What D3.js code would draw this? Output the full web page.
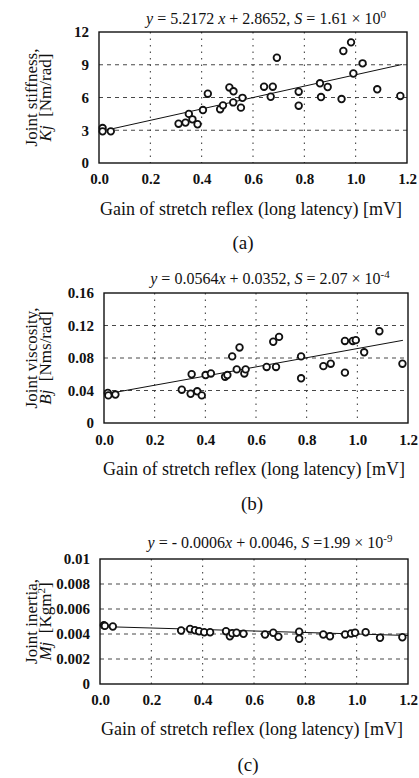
<!DOCTYPE html>
<html>
<head>
<meta charset="utf-8">
<script src="https://cdn.jsdelivr.net/npm/d3@7"></script>
<style>
  body { margin: 0; background: #fff; }
  svg text { font-family: "Liberation Serif", "DejaVu Serif", serif; fill: #111; white-space: pre; }
</style>
</head>
<body>
<svg id="chart"></svg>
<script>
// ---- data ----
const gainTicks = [0, 0.2, 0.4, 0.6, 0.8, 1.0, 1.2];

// (a) joint stiffness
const stiffGain = [0.014, 0.014, 0.046, 0.31, 0.337, 0.35, 0.364, 0.384, 0.405, 0.424, 0.472, 0.483, 0.508, 0.524, 0.523, 0.553, 0.559,
  0.643, 0.677, 0.669, 0.693, 0.778, 0.778, 0.861, 0.891, 0.865, 0.945, 0.952, 0.982, 0.991, 1.027, 1.084, 1.174];
const stiffness = [3.2, 2.9, 2.9, 3.6, 3.7, 4.5, 4.0, 3.55, 4.85, 6.35, 4.93, 5.28, 6.92, 6.57, 5.55, 5.07, 5.97,
  6.99, 6.99, 6.07, 9.64, 6.53, 5.25, 7.3, 6.96, 6.04, 5.86, 10.26, 11.05, 8.2, 9.13, 6.75, 6.14];
const stiffTicks = [0, 3, 6, 9, 12];

// (b) joint viscosity
const viscGain = [0.015, 0.017, 0.045, 0.307, 0.342, 0.346, 0.368, 0.386, 0.401, 0.422, 0.478, 0.487, 0.506, 0.535, 0.524, 0.554, 0.559,
  0.642, 0.679, 0.668, 0.691, 0.778, 0.778, 0.866, 0.895, 0.951, 0.951, 0.982, 0.994, 1.027, 1.087, 1.178];
const viscosity = [0.037, 0.034, 0.035, 0.041, 0.036, 0.060, 0.039, 0.034, 0.059, 0.061, 0.057, 0.059, 0.082, 0.093, 0.066, 0.061, 0.066,
  0.069, 0.069, 0.100, 0.106, 0.082, 0.055, 0.070, 0.073, 0.062, 0.101, 0.101, 0.102, 0.087, 0.113, 0.073];
const viscTicks = [0, 0.04, 0.08, 0.12, 0.16];

// (c) joint inertia
const inertGain = [0.015, 0.019, 0.050, 0.316, 0.351, 0.370, 0.386, 0.406, 0.429, 0.491, 0.506, 0.515, 0.532, 0.559,
  0.643, 0.675, 0.695, 0.776, 0.776, 0.870, 0.896, 0.955, 0.978, 0.994, 1.035, 1.091, 1.178];
const inertia = [0.0047, 0.00465, 0.0046, 0.00428, 0.0044, 0.0043, 0.00422, 0.00414, 0.00414, 0.00422, 0.00382, 0.00406, 0.0041, 0.00402,
  0.00396, 0.0041, 0.00378, 0.00418, 0.00362, 0.00396, 0.00382, 0.00396, 0.00404, 0.0041, 0.00414, 0.0037, 0.00374];
const inertTicks = [0, 0.002, 0.004, 0.006, 0.008, 0.01];

// regression lines y = slope*x + intercept
const fitSlope = [5.2172, 0.0564, -0.0006];
const fitIntercept = [2.8652, 0.0352, 0.0046];
const fitFrom = [0.02, 0.02, 0.0];
const fitTo = [1.18, 1.18, 1.2];

const panelTags = ["(a)", "(b)", "(c)"];
const yTitleTop = ["Joint stiffness,", "Joint viscosity,", "Joint inertia,"];

const W = 419, H = 778;

const svg = d3.select("#chart")
    .attr("width", W)
    .attr("height", H);

// layout of each panel (pixels)
const layouts = [
    { l: 99, r: 407, t: 32, b: 163, title: 24, xTick: 188, xTitle: 215, tag: 249, tagX: 243, tx: 266 },
    { l: 104, r: 408, t: 293, b: 423, title: 284, xTick: 449, xTitle: 475, tag: 510, tagX: 252, tx: 270 },
    { l: 100, r: 408, t: 559, b: 684, title: 548, xTick: 709, xTitle: 735, tag: 771, tagX: 248, tx: 270 }
];

const panels = [
    { gx: stiffGain, gy: stiffness, ticks: stiffTicks },
    { gx: viscGain, gy: viscosity, ticks: viscTicks },
    { gx: inertGain, gy: inertia, ticks: inertTicks }
];

const titleParts = [
    [{ t: "y", i: 1 }, { t: " = 5.2172 " }, { t: "x", i: 1 }, { t: " + 2.8652, " }, { t: "S", i: 1 }, { t: " = 1.61 × 10" }, { t: "0", sup: 1 }],
    [{ t: "y", i: 1 }, { t: " = 0.0564" }, { t: "x", i: 1 }, { t: " + 0.0352, " }, { t: "S", i: 1 }, { t: " = 2.07 × 10" }, { t: "-4", sup: 1 }],
    [{ t: "y", i: 1 }, { t: " = - 0.0006" }, { t: "x", i: 1 }, { t: " + 0.0046, " }, { t: "S", i: 1 }, { t: " =1.99 × 10" }, { t: "-9", sup: 1 }]
];

const yTitleBottom = [
    [{ t: "Kj", i: 1 }, { t: "  [Nm/rad]" }],
    [{ t: "Bj", i: 1 }, { t: "  [Nms/rad]" }],
    [{ t: "Mj", i: 1 }, { t: "  [Kgm" }, { t: "2", sup: 1 }, { t: "]", sub: 1 }]
];

function addParts(textSel, parts, supSize) {
    parts.forEach(p => {
        const ts = textSel.append("tspan").text(p.t);
        if (p.i) ts.style("font-style", "italic");
        if (p.sup) ts.attr("dy", -6).style("font-size", supSize + "px");
        if (p.sub) ts.attr("dy", 6);
    });
}

panels.forEach((p, k) => {
    const L = layouts[k];
    const x = d3.scaleLinear().domain([0, 1.2]).range([L.l, L.r]);
    const yMax = p.ticks[p.ticks.length - 1];
    const y = d3.scaleLinear().domain([0, yMax]).range([L.b, L.t]);
    const g = svg.append("g");

    // grid ----------
    g.selectAll(".hgrid")
        .data(p.ticks.slice(1, -1))
        .enter()
        .append("line")
        .attr("x1", L.l).attr("x2", L.r)
        .attr("y1", d => y(d)).attr("y2", d => y(d))
        .style("stroke", "#333")
        .style("stroke-width", 0.9)
        .style("stroke-dasharray", "4,4");

    g.selectAll(".vgrid")
        .data(gainTicks.slice(1, -1))
        .enter()
        .append("line")
        .attr("x1", d => x(d)).attr("x2", d => x(d))
        .attr("y1", L.t).attr("y2", L.b)
        .style("stroke", "#333")
        .style("stroke-width", 1)
        .style("stroke-dasharray", "1.5,5");

    // frame
    g.append("rect")
        .attr("x", L.l).attr("y", L.t)
        .attr("width", L.r - L.l).attr("height", L.b - L.t)
        .style("fill", "none")
        .style("stroke", "#111")
        .style("stroke-width", 1.4);

    // axes ----------
    const fmtY = d => d === 0 ? "0" : String(d);
    g.append("g")
        .attr("transform", `translate(${L.l},0)`)
        .call(d3.axisLeft(y).tickValues(p.ticks).tickSize(0).tickPadding(10).tickFormat(fmtY))
        .call(a => a.select(".domain").remove())
        .selectAll("text")
        .style("font-size", "15px")
        .style("font-weight", "bold");

    g.append("g")
        .attr("transform", `translate(0,${L.xTick - 15})`)
        .call(d3.axisBottom(x).tickValues(gainTicks).tickSize(0).tickPadding(0).tickFormat(d3.format(".1f")))
        .call(a => a.select(".domain").remove())
        .selectAll("text")
        .attr("dy", "0.71em")
        .style("font-size", "15px")
        .style("font-weight", "bold");

    // regression line
    g.append("line")
        .attr("x1", x(fitFrom[k])).attr("x2", x(fitTo[k]))
        .attr("y1", y(fitSlope[k] * fitFrom[k] + fitIntercept[k]))
        .attr("y2", y(fitSlope[k] * fitTo[k] + fitIntercept[k]))
        .style("stroke", "#111")
        .style("stroke-width", 1);

    // points
    g.selectAll(".pt")
        .data(d3.zip(p.gx, p.gy))
        .enter()
        .append("circle")
        .attr("cx", d => x(d[0]))
        .attr("cy", d => y(d[1]))
        .attr("r", 3.3)
        .style("fill", "#fff")
        .style("stroke", "#111")
        .style("stroke-width", 1.8);

    // texts ----------
    const title = g.append("text")
        .attr("x", L.tx).attr("y", L.title)
        .attr("text-anchor", "middle")
        .style("font-size", "16px");
    addParts(title, titleParts[k], 11);

    g.append("text")
        .attr("x", (L.l + L.r) / 2 - 2).attr("y", L.xTitle)
        .attr("text-anchor", "middle")
        .style("font-size", "18px")
        .text("Gain of stretch reflex (long latency) [mV]");

    g.append("text")
        .attr("x", L.tagX).attr("y", L.tag)
        .attr("text-anchor", "middle")
        .style("font-size", "19px")
        .text(panelTags[k]);

    const cy = (L.t + L.b) / 2;
    g.append("text")
        .attr("transform", `translate(37,${cy}) rotate(-90)`)
        .attr("text-anchor", "middle")
        .style("font-size", "17px")
        .text(yTitleTop[k]);

    const t2 = g.append("text")
        .attr("transform", `translate(51,${cy}) rotate(-90)`)
        .attr("text-anchor", "middle")
        .style("font-size", "17px");
    addParts(t2, yTitleBottom[k], 11);
});
</script>
</body>
</html>
